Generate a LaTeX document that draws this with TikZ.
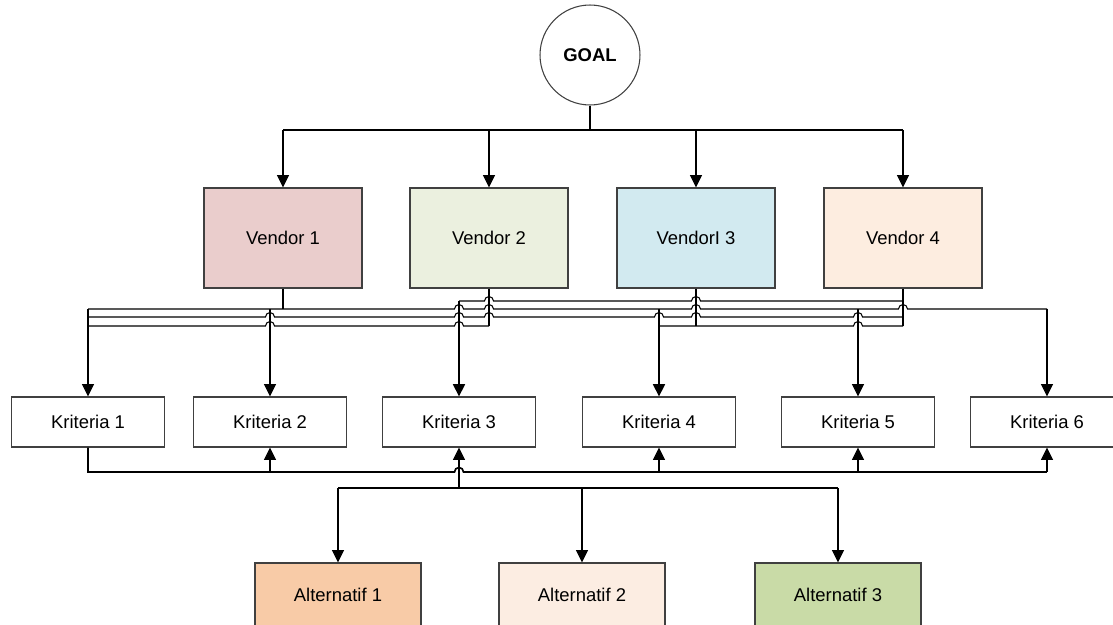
\documentclass[tikz,border=0pt]{standalone}
\usepackage{fontspec}
\setmainfont{Liberation Sans}
\usetikzlibrary{arrows.meta}

\definecolor{vendorA}{HTML}{EACDCC}
\definecolor{vendorB}{HTML}{EBF0DF}
\definecolor{vendorC}{HTML}{D2EAF0}
\definecolor{vendorD}{HTML}{FDEDE0}
\definecolor{altA}{HTML}{F8CBA7}
\definecolor{altB}{HTML}{FCEDE2}
\definecolor{altC}{HTML}{C9DBA7}

% line jump over a vertical line at (#1,#2)
\newcommand{\hop}[2]{-- (#1-4.5,#2) arc[start angle=180, end angle=0, radius=0.09cm]}

\begin{document}
\begin{tikzpicture}[x=0.02cm, y=-0.02cm,
    >={Triangle[length=7pt, width=6.8pt]},
    conn/.style={line width=0.6pt},
    heavy/.style={line width=0.95pt},
    box/.style={draw=black!75, line width=0.6pt, align=center, font=\fontsize{10.5}{12}\selectfont},
    vendorbox/.style={box, minimum width=3.16cm, minimum height=2cm},
    kritbox/.style={box, fill=white, minimum width=3.06cm, minimum height=1cm},
    altbox/.style={box, minimum width=3.32cm, minimum height=1.28cm}]
    \useasboundingbox (0,0) rectangle (1113,625);

    % Draw the goal
    \node[draw=black!75, line width=0.6pt, circle, minimum size=2cm, font=\bfseries\fontsize{10.5}{12}\selectfont] (goal) at (590,55) {GOAL};

    % Draw the vendors
    \node[vendorbox, fill=vendorA] (v1) at (283,238) {Vendor 1};
    \node[vendorbox, fill=vendorB] (v2) at (489,238) {Vendor 2};
    \node[vendorbox, fill=vendorC] (v3) at (696,238) {VendorI 3};
    \node[vendorbox, fill=vendorD] (v4) at (903,238) {Vendor 4};

    % Draw the criteria
    \node[kritbox] (k1) at (88,422) {Kriteria 1};
    \node[kritbox] (k2) at (270,422) {Kriteria 2};
    \node[kritbox] (k3) at (459,422) {Kriteria 3};
    \node[kritbox] (k4) at (659,422) {Kriteria 4};
    \node[kritbox] (k5) at (858,422) {Kriteria 5};
    \node[kritbox] (k6) at (1047,422) {Kriteria 6};

    % Draw the alternatives
    \node[altbox, fill=altA] (a1) at (338,595) {Alternatif 1};
    \node[altbox, fill=altB] (a2) at (582,595) {Alternatif 2};
    \node[altbox, fill=altC] (a3) at (838,595) {Alternatif 3};

    % Levels of the connector runs
    \coordinate (gbus) at (590,130);
    \coordinate (l1) at (0,301);
    \coordinate (l2) at (0,309);
    \coordinate (l3) at (0,317);
    \coordinate (l4) at (0,326);
    \coordinate (kbus) at (0,472);
    \coordinate (abus) at (0,488);

    % Goal to vendors
    \draw[conn] (goal.south) -- (gbus);
    \draw[conn] (v1.north |- gbus) -- (v4.north |- gbus);
    \foreach \v in {v1,v2,v3,v4}
        \draw[conn,->] (\v.north |- gbus) -- (\v.north);

    % Vendors to criteria
    \draw[conn] (v1.south) -- (v1.south |- l2);
    \draw[conn] (v2.south) -- (v2.south |- l4);
    \draw[conn] (v3.south) -- (v3.south |- l4);
    \draw[heavy] (v4.south) -- (v4.south |- l4);
    \draw[conn] (k3.north |- l1) \hop{489}{301} \hop{696}{301} -- (v4.south |- l1);
    \draw[conn] (k1.north |- l2) \hop{459}{309} \hop{489}{309} \hop{696}{309} \hop{903}{309} -- (k6.north |- l2);
    \draw[conn] (k1.north |- l3) \hop{270}{317} \hop{459}{317} \hop{489}{317} \hop{659}{317} \hop{696}{317} \hop{858}{317} -- (v4.south |- l3);
    \draw[conn] (k1.north |- l4) \hop{270}{326} \hop{459}{326} -- (v2.south |- l4);
    \draw[conn] (k4.north |- l4) \hop{858}{326} -- (v4.south |- l4);
    \draw[conn,->] (k1.north |- l2) -- (k1.north);
    \draw[conn,->] (k2.north |- l2) -- (k2.north);
    \draw[heavy,->] (k3.north |- l1) -- (k3.north);
    \draw[heavy,->] (k4.north |- l2) -- (k4.north);
    \draw[conn,->] (k5.north |- l2) -- (k5.north);
    \draw[conn,->] (k6.north |- l2) -- (k6.north);

    % Criteria bus
    \draw[heavy] (k1.south) -- (k1.south |- kbus) \hop{459}{472} -- (k4.south |- kbus);
    \draw[conn] (k4.south |- kbus) -- (k6.south |- kbus);
    \foreach \k in {k2,k4,k5,k6}
        \draw[conn,->] (\k.south |- kbus) -- (\k.south);

    % Alternatives to criteria
    \draw[conn,->] (k3.south |- abus) -- (k3.south);
    \draw[conn] (a1.north |- abus) -- (a3.north |- abus);
    \foreach \a in {a1,a2,a3}
        \draw[conn,->] (\a.north |- abus) -- (\a.north);
\end{tikzpicture}
\end{document}
